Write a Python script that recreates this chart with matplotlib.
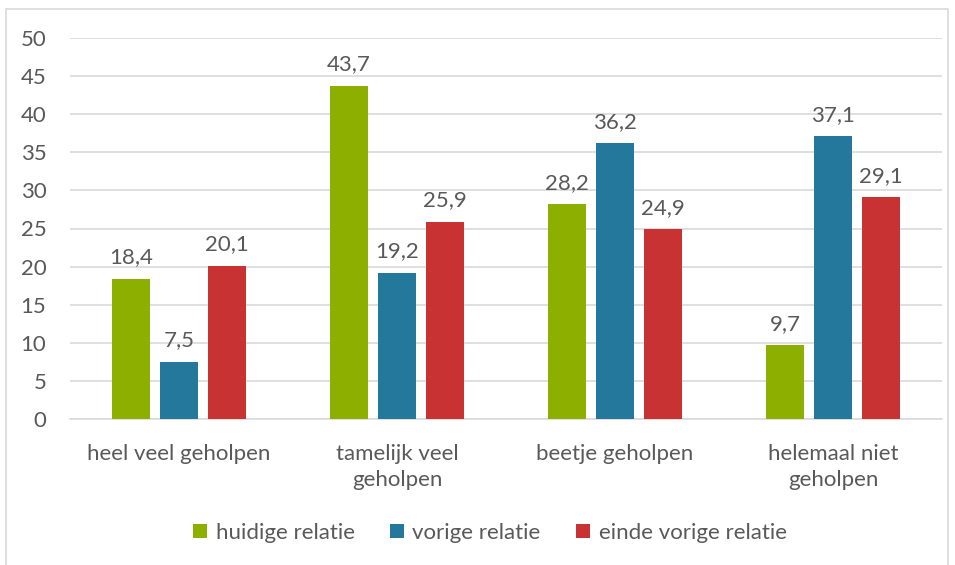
import numpy as np
import matplotlib.pyplot as plt
from matplotlib.patches import Rectangle

plt.rcParams['font.family'] = ['Lato', 'DejaVu Sans']

categories = ["heel veel geholpen", "tamelijk veel\ngeholpen", "beetje geholpen", "helemaal niet\ngeholpen"]
series_names = ["huidige relatie", "vorige relatie", "einde vorige relatie"]
huidige = [18.4, 43.7, 28.2, 9.7]
vorige = [7.5, 19.2, 36.2, 37.1]
einde = [20.1, 25.9, 24.9, 29.1]
colors = ["#8DB000", "#23789C", "#C83232"]
text_color = "#595959"
fs = 16

fig = plt.figure(figsize=(9.55, 5.65), dpi=100)
ax = fig.add_axes([70 / 955, 1 - 419 / 565, 872 / 955, 381 / 565])

x = np.arange(len(categories))
width = 0.174
step = 0.22
for i, (vals, name) in enumerate(zip([huidige, vorige, einde], series_names)):
    bars = ax.bar(x + (i - 1) * step, vals, width, color=colors[i], label=name, zorder=3)
    for b, v in zip(bars, vals):
        ax.text(b.get_x() + b.get_width() / 2, v + 1.5, f"{v:.1f}".replace(".", ","),
                ha="center", va="bottom", fontsize=fs, color=text_color)

ax.set_xlim(-0.5, 3.5)
ax.set_ylim(0, 50)
ax.set_yticks(range(0, 51, 5))
ax.yaxis.grid(True, color="#D9D9D9", linewidth=1.2, zorder=0)
ax.set_axisbelow(True)
for s in ["top", "right", "left"]:
    ax.spines[s].set_visible(False)
ax.spines["bottom"].set_color("#D9D9D9")
ax.spines["bottom"].set_linewidth(1.2)
ax.tick_params(axis="both", length=0, labelsize=fs, colors=text_color)
ax.tick_params(axis="y", pad=17)
ax.tick_params(axis="x", pad=18)
ax.set_xticks(x)
ax.set_xticklabels(categories, linespacing=1.35)

leg = fig.legend(loc="center", bbox_to_anchor=(490 / 955, 1 - 533 / 565), ncol=3, frameon=False,
                 fontsize=fs, handlelength=0.6, handleheight=0.6, handletextpad=0.4,
                 columnspacing=1.6, labelcolor=text_color)

fig.patches.append(Rectangle((6 / 955, -0.05), 942 / 955, 1 - 9 / 565 + 0.05, transform=fig.transFigure,
                             fill=False, edgecolor="#D9D9D9", linewidth=1.2))

fig.savefig("out.png", dpi=100)
